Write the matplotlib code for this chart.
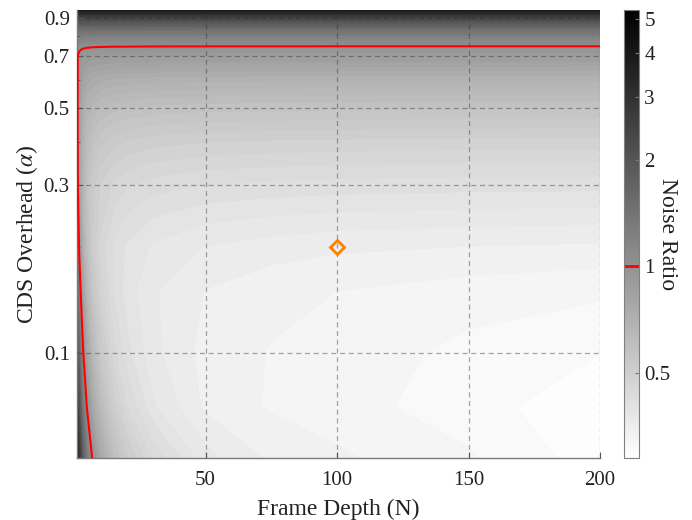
import numpy as np
import matplotlib
matplotlib.use("Agg")
import matplotlib.pyplot as plt
from matplotlib.colors import LogNorm
from matplotlib import cm
from matplotlib.ticker import NullFormatter, NullLocator

plt.rcParams['font.family'] = ['Liberation Serif', 'DejaVu Serif']
plt.rcParams['mathtext.fontset'] = 'stix'

# ---- data ----
frame_depth = [1, 1.5, 2, 3, 4, 5, 7, 10, 15, 20, 30, 50, 75, 100, 150, 200]
cds_overhead = [0.05, 0.07, 0.10, 0.15, 0.20, 0.30, 0.40, 0.50, 0.60,
                0.70, 0.75, 0.80, 0.85, 0.90, 0.95]
# rows follow cds_overhead, columns follow frame_depth
noise_ratio = [
    [5.270, 3.603, 2.770, 1.937, 1.520, 1.270, 0.985, 0.770, 0.604, 0.520, 0.437, 0.372, 0.345, 0.335, 0.318, 0.293],
    [3.771, 2.604, 2.021, 1.437, 1.146, 0.971, 0.771, 0.621, 0.504, 0.446, 0.387, 0.345, 0.330, 0.322, 0.309, 0.288],
    [2.738, 1.921, 1.513, 1.104, 0.900, 0.778, 0.638, 0.533, 0.451, 0.410, 0.371, 0.342, 0.331, 0.325, 0.312, 0.302],
    [1.962, 1.412, 1.137, 0.862, 0.724, 0.642, 0.548, 0.477, 0.422, 0.394, 0.368, 0.348, 0.338, 0.332, 0.325, 0.320],
    [1.559, 1.152, 0.949, 0.746, 0.644, 0.583, 0.513, 0.461, 0.420, 0.400, 0.381, 0.365, 0.357, 0.352, 0.348, 0.345],
    [1.236, 0.959, 0.821, 0.682, 0.613, 0.572, 0.524, 0.489, 0.461, 0.447, 0.433, 0.422, 0.417, 0.414, 0.411, 0.410],
    [1.177, 0.943, 0.827, 0.710, 0.652, 0.617, 0.577, 0.547, 0.523, 0.512, 0.500, 0.491, 0.486, 0.484, 0.481, 0.480],
    [1.127, 0.941, 0.847, 0.754, 0.707, 0.679, 0.647, 0.623, 0.605, 0.595, 0.586, 0.578, 0.575, 0.573, 0.571, 0.570],
    [1.108, 0.968, 0.898, 0.828, 0.793, 0.772, 0.748, 0.730, 0.716, 0.709, 0.702, 0.696, 0.693, 0.692, 0.691, 0.690],
    [1.044, 0.987, 0.959, 0.931, 0.917, 0.908, 0.898, 0.891, 0.885, 0.883, 0.880, 0.878, 0.876, 0.876, 0.875, 0.875],
    [1.084, 1.057, 1.044, 1.030, 1.024, 1.020, 1.015, 1.012, 1.009, 1.008, 1.006, 1.005, 1.005, 1.004, 1.004, 1.004],
    [1.280, 1.260, 1.250, 1.240, 1.235, 1.232, 1.228, 1.226, 1.224, 1.223, 1.222, 1.221, 1.220, 1.220, 1.220, 1.220],
    [1.640, 1.620, 1.610, 1.600, 1.595, 1.592, 1.588, 1.586, 1.584, 1.583, 1.582, 1.581, 1.580, 1.580, 1.580, 1.580],
    [2.360, 2.340, 2.330, 2.320, 2.315, 2.312, 2.308, 2.306, 2.304, 2.303, 2.302, 2.301, 2.300, 2.300, 2.300, 2.300],
    [3.960, 3.940, 3.930, 3.920, 3.915, 3.912, 3.908, 3.906, 3.904, 3.903, 3.902, 3.901, 3.900, 3.900, 3.900, 3.900],
]
operating_point_N = [100]
operating_point_alpha = [0.2]
y_ticks = [0.1, 0.3, 0.5, 0.7, 0.9]
y_minor_ticks = [0.06, 0.07, 0.08, 0.09, 0.2, 0.4, 0.6, 0.8]
x_ticks = [50, 100, 150, 200]
cbar_ticks = [0.5, 1, 2, 3, 4, 5]
c_min, c_max = 0.287, 5.3

# ---- figure ----
W, H = 692, 520
fig = plt.figure(figsize=(W / 100, H / 100), dpi=100)
ax = fig.add_axes([76.7 / W, (H - 458) / H, (600 - 76.7) / W, 448 / H])

Z = np.array(noise_ratio)
norm = LogNorm(vmin=c_min, vmax=c_max)
levels = np.geomspace(c_min, c_max, 61)
ax.set_yscale('log')
cf = ax.contourf(frame_depth, cds_overhead, Z, levels=levels, cmap='gray_r',
                 norm=norm, antialiased=False, zorder=1)
cs = ax.contour(frame_depth, cds_overhead, Z, levels=[1.0], colors='red',
                linewidths=1.5, zorder=4)

ax.plot(operating_point_N, operating_point_alpha, linestyle='none', marker='D',
        ms=7, mfc='none', mec='#ff7f00', mew=2.0, zorder=5)

ax.set_xlim(1, 200)
ax.set_ylim(0.05, 0.95)
ax.set_xticks(x_ticks)
ax.set_xticklabels([str(t) for t in x_ticks])
ax.set_yticks(y_ticks)
ax.set_yticklabels([f'{t:g}' for t in y_ticks])
ax.set_yticks(y_minor_ticks, minor=True)
ax.yaxis.set_minor_formatter(NullFormatter())
ax.xaxis.set_minor_locator(NullLocator())

ax.grid(True, which='major', linestyle=(0, (4, 3)), color='#262626',
        alpha=0.4, linewidth=0.9, zorder=3)
ax.set_axisbelow(False)

for s in ['top', 'right']:
    ax.spines[s].set_visible(False)
for s in ['left', 'bottom']:
    ax.spines[s].set_color('#7a7a7a')
    ax.spines[s].set_linewidth(1.0)

ax.tick_params(axis='both', which='major', direction='in', length=4,
               color='#555555', labelsize=15, labelcolor='#222222')
ax.tick_params(axis='y', which='minor', direction='in', length=2.5,
               color='#555555')
ax.tick_params(axis='x', pad=9.5)
ax.tick_params(axis='y', pad=5)

ax.set_xlabel('Frame Depth (N)', fontsize=17, color='#222222', labelpad=6)
ax.set_ylabel(r'CDS Overhead ($\alpha$)', fontsize=17, color='#222222', labelpad=2.5)

# ---- colorbar ----
cax = fig.add_axes([624.3 / W, (H - 458) / H, 14.4 / W, 448 / H])
sm = cm.ScalarMappable(norm=norm, cmap='gray_r')
cb = fig.colorbar(sm, cax=cax)
cb.set_ticks(cbar_ticks)
cb.set_ticklabels([f'{t:g}' for t in cbar_ticks])
cax.minorticks_off()
cax.tick_params(direction='in', length=3, color='#777777', labelsize=15,
                labelcolor='#222222', pad=4)
cb.outline.set_edgecolor('#808080')
cb.outline.set_linewidth(0.8)
cax.axhline(1.0, color='red', linewidth=2)

fig.text(668 / W, 1 - 234 / H, 'Noise Ratio', rotation=270, ha='center',
         va='center', fontsize=17, color='#222222')

fig.savefig('out.png', dpi=100)
